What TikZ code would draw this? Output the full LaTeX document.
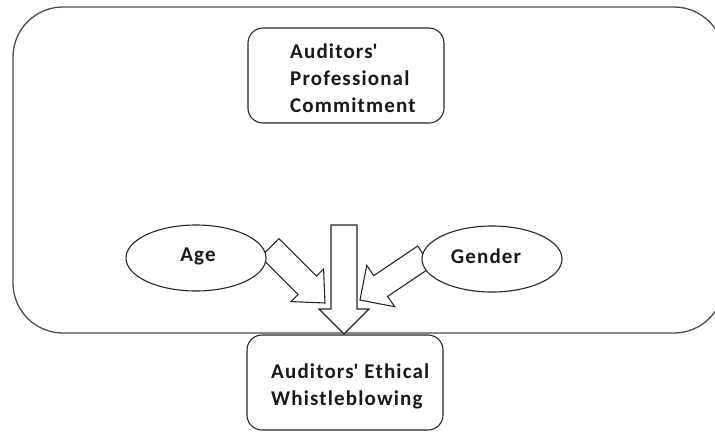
\documentclass[tikz,border=0pt]{standalone}
\usepackage{fontspec}
\setmainfont{Carlito}[LetterSpace=5.5]
\usetikzlibrary{shapes.geometric}
\begin{document}
\begin{tikzpicture}[x=1pt,y=-1pt,
  lbl/.style={font=\bfseries\fontsize{21}{27}\selectfont, align=left, inner sep=0pt, text=black!90},
  outer/.style={draw=black!70, line width=1.3pt, rounded corners=50pt},
  rbox/.style={draw=black!85, line width=1.1pt, rounded corners=15pt, fill=white},
  oval/.style={ellipse, draw=black!85, line width=1.1pt, fill=white, minimum width=140pt, minimum height=66pt, inner sep=0pt},
  barrow/.style={draw=black!85, line width=1.1pt, fill=white, line join=miter}]
\useasboundingbox (0,0) rectangle (715,432);
\begin{scope}
  \clip (0,0) rectangle (715,432);
  \draw[outer] (13,7) rectangle (724,333);
\end{scope}
% block arrows
\coordinate (tipV) at (344,334);
\coordinate (tipA) at (325,303);
\coordinate (tipG) at (360,300);
\begin{scope}[shift={(tipV)}, rotate=-90]
  \draw[barrow] (0,0) -- (-25,25) -- (-25,13) -- (-109,13) -- (-109,-13) -- (-25,-13) -- (-25,-25) -- cycle;
\end{scope}
\begin{scope}[shift={(tipA)}, rotate=-45]
  \draw[barrow] (0,0) -- (-25,23) -- (-25,13) -- (-78,13) -- (-78,-13) -- (-25,-13) -- (-25,-23) -- cycle;
\end{scope}
\begin{scope}[shift={(tipG)}, rotate=-146]
  \draw[barrow] (0,0) -- (-25,25) -- (-25,12.5) -- (-78,12.5) -- (-78,-12.5) -- (-25,-12.5) -- (-25,-25) -- cycle;
\end{scope}
% ellipses
\node[oval] (age) at (196,258) {};
\node[lbl] (agetxt) at (198,256) {Age};
\node[oval] (gender) at (492,259) {};
\node[lbl] (gendertxt) at (486,256) {Gender};
% boxes
\node[rbox, minimum width=196pt, minimum height=95pt] (pc) at (346,75.5) {};
\node[lbl, anchor=west] (pctxt) at (290,78) {Auditors\textquotesingle\\Professional\\Commitment};
\node[rbox, minimum width=196pt, minimum height=95pt] (ew) at (345,382.5) {};
\node[lbl, anchor=west] (ewtxt) at (271,386) {Auditors\textquotesingle{} Ethical\\Whistleblowing};
\end{tikzpicture}
\end{document}
